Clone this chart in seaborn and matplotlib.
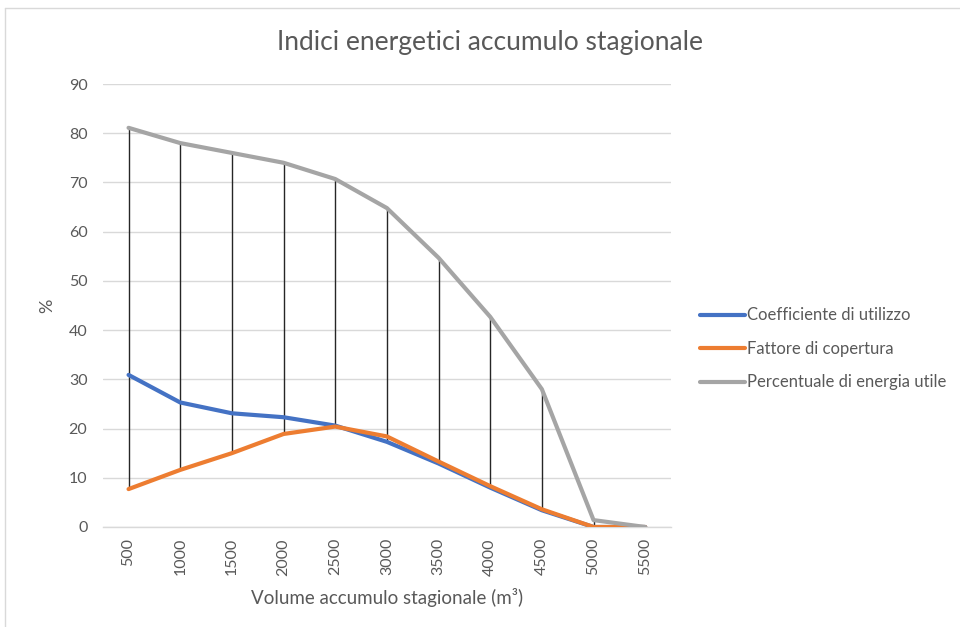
import matplotlib
matplotlib.use("Agg")
import matplotlib.pyplot as plt
import seaborn as sns
import pandas as pd
import numpy as np

# data
volumes = ["500", "1000", "1500", "2000", "2500", "3000", "3500", "4000", "4500", "5000", "5500"]
coeff_utilizzo = [30.9, 25.3, 23.1, 22.3, 20.6, 17.3, 12.9, 8.0, 3.4, 0.0, 0.0]
fattore_copertura = [7.7, 11.6, 15.0, 18.9, 20.4, 18.4, 13.3, 8.3, 3.6, 0.0, 0.0]
perc_energia = [81.1, 78.0, 76.0, 74.0, 70.7, 64.8, 54.7, 42.7, 28.0, 1.4, 0.0]
series_names = ["Coefficiente di utilizzo", "Fattore di copertura", "Percentuale di energia utile"]
colors = ["#4472C4", "#ED7D31", "#A5A5A5"]

df = pd.DataFrame({
    "Volume": volumes * 3,
    "Valore": coeff_utilizzo + fattore_copertura + perc_energia,
    "Serie": [series_names[0]] * 11 + [series_names[1]] * 11 + [series_names[2]] * 11,
})

sns.set_theme(style="white")
plt.rcParams['font.family'] = ['Lato', 'DejaVu Sans']
text_col = "#595959"

fig = plt.figure(figsize=(9.6, 6.27), dpi=100)
ax = fig.add_axes([0.107, 0.1595, 0.592, 0.7065])

# high-low lines
vals = np.array([coeff_utilizzo, fattore_copertura, perc_energia])
xpos = np.arange(len(volumes))
ax.vlines(xpos, vals.min(axis=0), vals.max(axis=0), color="#262626", lw=1.0, zorder=2)

sns.lineplot(data=df, x="Volume", y="Valore", hue="Serie", palette=colors,
             sort=False, lw=3.0, ax=ax, zorder=3, legend=True)

ax.set_ylim(0, 90)
ax.set_xlim(-0.5, len(volumes) - 0.5)
ax.set_yticks(range(0, 91, 10))
ax.yaxis.grid(True, color="#d9d9d9", lw=1)
ax.xaxis.grid(False)
for s in ["top", "right", "left"]:
    ax.spines[s].set_visible(False)
ax.spines["bottom"].set_color("#d9d9d9")
ax.spines["bottom"].set_linewidth(1)
ax.tick_params(axis="both", length=0, colors=text_col, labelsize=11.5)
ax.tick_params(axis="x", rotation=90, pad=8)
ax.tick_params(axis="y", pad=11)

ax.set_xlabel("Volume accumulo stagionale (m³)", color=text_col, fontsize=13.5, labelpad=9)
ax.set_ylabel("%", color=text_col, fontsize=13, labelpad=10)

leg = ax.legend(loc="center left", bbox_to_anchor=(1.025, 0.402), frameon=False,
                fontsize=12, handlelength=2.7, handletextpad=0.1, labelspacing=1.05)
for t in leg.get_texts():
    t.set_color(text_col)
for h in leg.get_lines():
    h.set_linewidth(3.0)

fig.text(0.51, 0.933, "Indici energetici accumulo stagionale", ha="center", va="center",
         fontsize=19, color=text_col)

# outer chart border
fig.add_artist(plt.Line2D([5 / 960, 5 / 960], [0, 1 - 8 / 627], transform=fig.transFigure,
                          color="#d9d9d9", lw=1))
fig.add_artist(plt.Line2D([5 / 960, 1], [1 - 8 / 627, 1 - 8 / 627], transform=fig.transFigure,
                          color="#d9d9d9", lw=1))

fig.savefig("out.png", dpi=100, facecolor="white")
